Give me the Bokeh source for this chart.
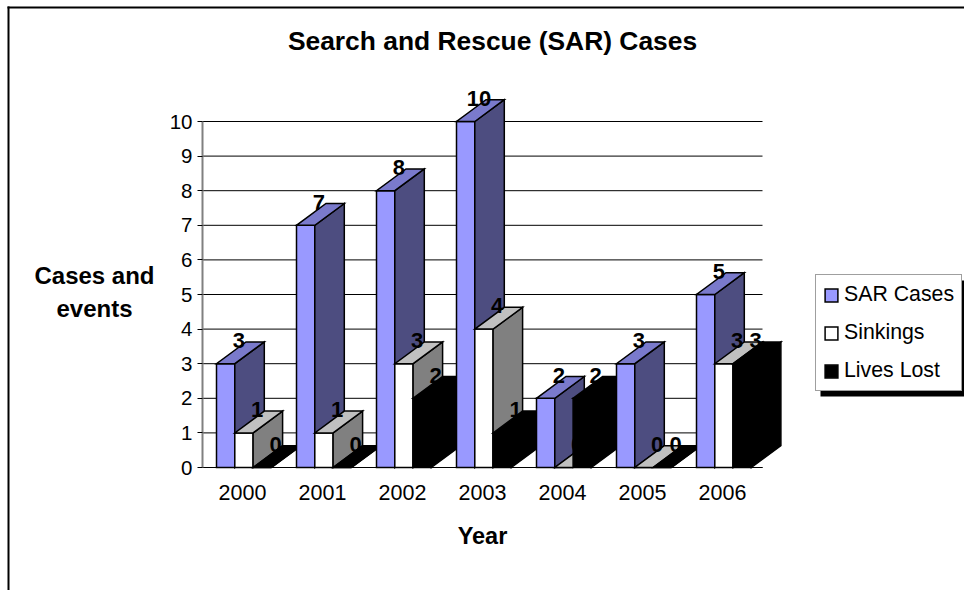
from bokeh.embed import file_html
from bokeh.resources import INLINE
from bokeh.plotting import figure
from bokeh.models import (BoxAnnotation, ColumnDataSource, FixedTicker, Label, Legend, LegendItem,
                          Range1d)
from bokeh.core.properties import value

# ---------- data ----------
years = ["2000", "2001", "2002", "2003", "2004", "2005", "2006"]
sar_cases = [3, 7, 8, 10, 2, 3, 5]
sinkings = [1, 1, 3, 4, 0, 0, 3]
lives_lost = [0, 0, 2, 1, 2, 0, 3]
series_names = ["SAR Cases", "Sinkings", "Lives Lost"]
y_ticks = [0, 1, 2, 3, 4, 5, 6, 7, 8, 9, 10]

# ---------- style ----------
FONT = "Liberation Sans"
front_colors = ["#9999FF", "#FFFFFF", "#000000"]
side_colors = ["#4D4D80", "#808080", "#000000"]
top_colors = ["#7A7ACC", "#C0C0C0", "#000000"]

PX_X = 80.0    # pixels per category
PX_Y = 34.6    # pixels per unit
bar_w = 18.3 / PX_X
group_off = -26.0 / PX_X
depth_x = 29.5 / PX_X
depth_y = 21.8 / PX_Y

W, H = 964, 590
LEFT, BOTTOM = 202, 123   # where x=0 and y=0 fall
Y0 = H - BOTTOM

# The frame fills the whole canvas so that the outer border, the legend and the
# titles can all be drawn; the axes are pinned at zero.
p = figure(width=W, height=H, output_backend="svg", toolbar_location=None,
           x_range=Range1d(-LEFT / PX_X, (W - LEFT) / PX_X),
           y_range=Range1d(-BOTTOM / PX_Y, Y0 / PX_Y),
           min_border=0, outline_line_color=None,
           background_fill_color="white", border_fill_color="white")
p.xgrid.visible = False
p.ygrid.visible = False


def page_box(left, right, top, bottom):
    """Solid black box given in page pixels (screen units run from the lower left)."""
    return BoxAnnotation(left=left, right=right, top=H - top, bottom=H - bottom,
                         left_units="screen", right_units="screen",
                         top_units="screen", bottom_units="screen",
                         fill_color="black", fill_alpha=1, line_color=None)


def text_label(px, py, text, size):
    return Label(x=(px - LEFT) / PX_X, y=(Y0 - py) / PX_Y, text=text,
                 text_font=FONT, text_font_size=size, text_font_style="bold",
                 text_color="black", text_align="center", text_baseline="middle")


# frame around the chart area
p.add_layout(page_box(7, 964, 6, 8))
p.add_layout(page_box(7, 9, 6, 590))

# gridlines (stop at the end of the category axis)
p.segment(x0=[0] * len(y_ticks), x1=[len(years)] * len(y_ticks), y0=y_ticks, y1=y_ticks,
          line_color="black", line_width=1)

# bars, left to right
all_values = [sar_cases, sinkings, lives_lost]
first = []
for i, _ in enumerate(years):
    for s, vals in enumerate(all_values):
        v = vals[i]
        x0 = i + 0.5 + group_off + s * bar_w
        x1 = x0 + bar_w
        xs = [[x0, x1, x1, x0],
              [x1, x1 + depth_x, x1 + depth_x, x1],
              [x0, x1, x1 + depth_x, x0 + depth_x]]
        ys = [[0, 0, v, v],
              [0, depth_y, v + depth_y, v],
              [v, v, v + depth_y, v + depth_y]]
        src = ColumnDataSource(dict(xs=xs, ys=ys,
                                    c=[front_colors[s], side_colors[s], top_colors[s]]))
        r = p.patches("xs", "ys", source=src, fill_color="c", line_color="black",
                      line_width=1.5, line_join="miter")
        if i == 0:
            first.append(r)

# data labels
lx, ly, lt = [], [], []
for i, _ in enumerate(years):
    for s, vals in enumerate(all_values):
        lx.append(i + 0.5 + group_off + (s + 0.5) * bar_w + depth_x / 2 - 1.5 / PX_X)
        ly.append(vals[i] + depth_y + 1.5 / PX_Y)
        lt.append(str(vals[i]))
p.text(lx, ly, text=lt, text_font=value(FONT), text_font_size="22px",
       text_font_style="bold", text_color="black", text_align="center",
       text_baseline="middle")

# axes
xa = p.xaxis[0]
xa.fixed_location = 0
xa.ticker = FixedTicker(ticks=[i + 0.5 for i in range(len(years))])
xa.major_label_overrides = {i + 0.5: y for i, y in enumerate(years)}
xa.bounds = (0, len(years))
xa.axis_line_color = "black"
xa.axis_line_width = 1
xa.major_tick_line_color = None
xa.minor_tick_line_color = None
xa.major_label_text_font = FONT
xa.major_label_text_font_size = "21.5px"
xa.major_label_text_color = "black"
xa.major_label_standoff = 11

ya = p.yaxis[0]
ya.fixed_location = 0
ya.ticker = FixedTicker(ticks=y_ticks)
ya.bounds = (0, 10)
ya.axis_line_color = "#808080"
ya.axis_line_width = 2
ya.major_tick_line_color = "black"
ya.major_tick_out = 5
ya.major_tick_in = 0
ya.minor_tick_line_color = None
ya.major_label_text_font = FONT
ya.major_label_text_font_size = "20.5px"
ya.major_label_text_color = "black"
ya.major_label_standoff = 5

# chart title and axis titles
p.add_layout(text_label(492, 40, "Search and Rescue (SAR) Cases", "26.4px"))
p.add_layout(text_label(482, 535, "Year", "23.5px"))
p.add_layout(text_label(94, 291.5, "Cases and\nevents", "24px"))

# legend with its shadow
p.add_layout(page_box(820, 964, 280, 396))
legend = Legend(items=[LegendItem(label=n, renderers=[r], index=0)
                       for n, r in zip(series_names, first)],
                location=(815, 199), orientation="vertical", margin=0, padding=7,
                spacing=13, glyph_width=16, glyph_height=16, label_standoff=5,
                label_text_font=FONT, label_text_font_size="21.3px",
                label_text_color="black", label_height=24,
                border_line_color="#404040", border_line_width=1,
                background_fill_color="white", background_fill_alpha=1)
p.add_layout(legend)

open("out.html", "w").write(file_html(p, INLINE))
